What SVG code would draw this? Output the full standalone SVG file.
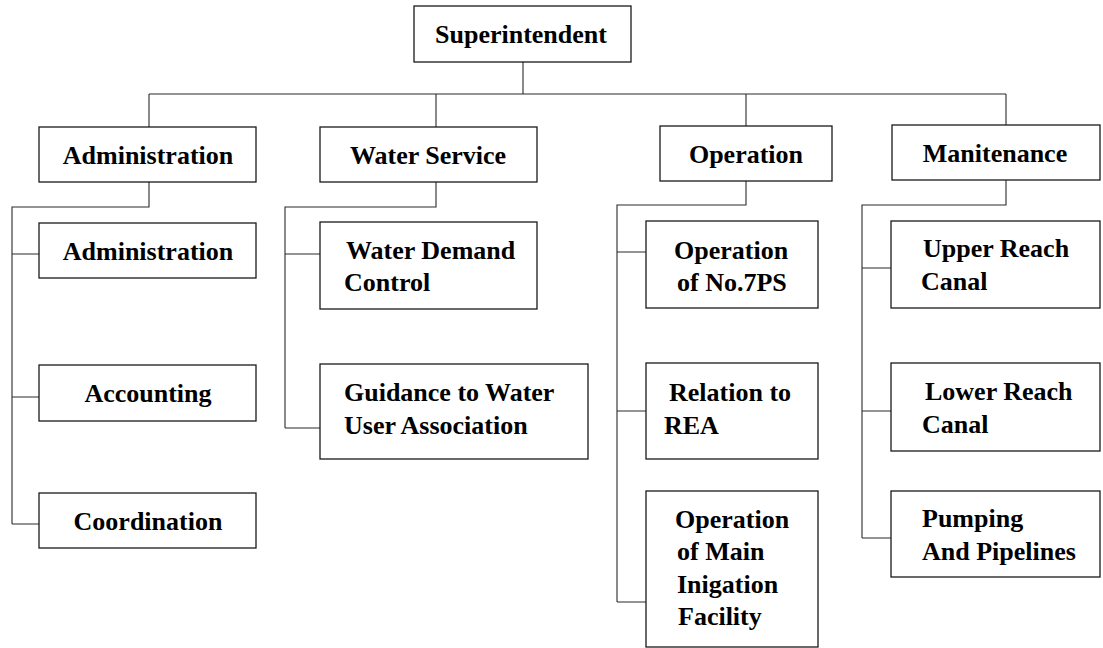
<svg xmlns="http://www.w3.org/2000/svg" width="1103" height="648" viewBox="0 0 1103 648">
<style>
.box{fill:#fff;stroke:#1a1a1a;stroke-width:1.3}
.ln{fill:none;stroke:#2a2a2a;stroke-width:1.1}
text{font-family:"Liberation Serif","Times New Roman",serif;font-weight:bold;font-size:26px;fill:#000}
.c{text-anchor:middle}
</style>
<rect width="1103" height="648" fill="#fff"/>
<g id="connectors" class="ln">
<path d="M523,62V94M149,94H1006M149,94V127M436,94V127M746,94V126M1006,94V125"/>
<path d="M149,182V207H12V524M12,254H39M12,397H39M12,524H39"/>
<path d="M436,182V207H285V428M285,254H320M285,428H320"/>
<path d="M746,181V205H617V602M617,252H646M617,411H646M617,602H646"/>
<path d="M1006,180V205H862V538M862,268H891M862,411H891M862,538H891"/>
</g>
<g id="superintendent"><rect class="box" x="414" y="6" width="217" height="56"/><text class="c" x="521" y="43">Superintendent</text></g>
<g id="administration"><rect class="box" x="39" y="127" width="217" height="55"/><text class="c" x="148" y="164">Administration</text></g>
<g id="water-service"><rect class="box" x="320" y="127" width="217" height="55"/><text class="c" x="428" y="164">Water Service</text></g>
<g id="operation"><rect class="box" x="660" y="126" width="172" height="55"/><text class="c" x="746" y="163">Operation</text></g>
<g id="maintenance"><rect class="box" x="892" y="125" width="208" height="55"/><text class="c" x="995" y="162">Manitenance</text></g>
<g id="admin-sub"><rect class="box" x="39" y="223" width="217" height="55"/><text class="c" x="148" y="260">Administration</text></g>
<g id="accounting"><rect class="box" x="39" y="365" width="217" height="56"/><text class="c" x="148" y="402">Accounting</text></g>
<g id="coordination"><rect class="box" x="39" y="493" width="217" height="55"/><text class="c" x="148" y="530">Coordination</text></g>
<g id="water-demand"><rect class="box" x="320" y="222" width="217" height="87"/><text x="346" y="259">Water Demand</text><text x="344" y="291">Control</text></g>
<g id="guidance"><rect class="box" x="320" y="364" width="268" height="95"/><text x="344" y="401">Guidance to Water</text><text x="344" y="434">User Association</text></g>
<g id="op-no7ps"><rect class="box" x="646" y="221" width="172" height="87"/><text x="674" y="259">Operation</text><text x="677" y="291">of No.7PS</text></g>
<g id="relation-rea"><rect class="box" x="646" y="363" width="172" height="96"/><text x="669" y="401">Relation to</text><text x="664" y="434">REA</text></g>
<g id="op-main"><rect class="box" x="646" y="491" width="172" height="156"/><text x="675" y="528">Operation</text><text x="677" y="560">of Main</text><text x="677" y="593">Inigation</text><text x="678" y="625">Facility</text></g>
<g id="upper-reach"><rect class="box" x="891" y="221" width="209" height="87"/><text x="923" y="257">Upper Reach</text><text x="921" y="290">Canal</text></g>
<g id="lower-reach"><rect class="box" x="891" y="363" width="209" height="88"/><text x="925" y="400">Lower Reach</text><text x="922" y="433">Canal</text></g>
<g id="pumping"><rect class="box" x="891" y="491" width="209" height="86"/><text x="922" y="527">Pumping</text><text x="922" y="560">And Pipelines</text></g>
</svg>
